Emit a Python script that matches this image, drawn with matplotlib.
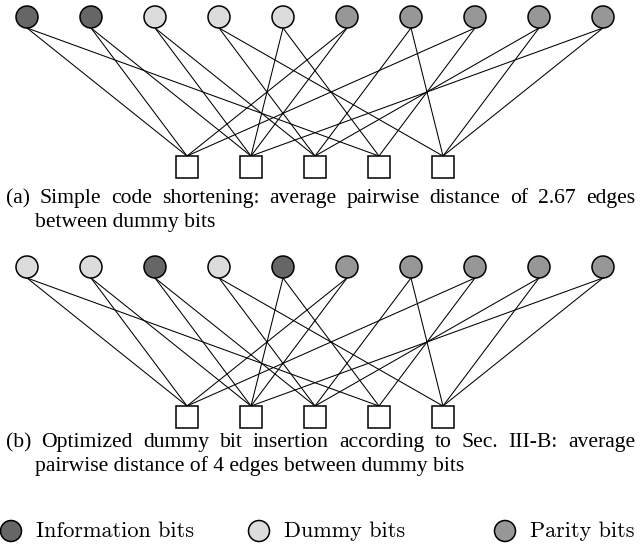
import matplotlib
matplotlib.use("Agg")
import matplotlib.pyplot as plt
from matplotlib.patches import Circle, Rectangle

# bit types of the 10 variable nodes in each panel
bits_a = ["info", "info", "dummy", "dummy", "dummy",
          "parity", "parity", "parity", "parity", "parity"]
bits_b = ["dummy", "dummy", "info", "dummy", "info",
          "parity", "parity", "parity", "parity", "parity"]

# (variable node, check node) pairs, same graph in both panels
edges = [(0, 0), (0, 3), (1, 0), (1, 1), (2, 1), (2, 2), (3, 2), (3, 4),
         (4, 1), (4, 3), (5, 0), (5, 1), (6, 2), (6, 4), (7, 0), (7, 3),
         (8, 2), (8, 4), (9, 1), (9, 4)]
n_checks = 5

colors = {"info": "#666666", "dummy": "#dcdcdc", "parity": "#979797"}
legend_labels = [("info", "Information bits"), ("dummy", "Dummy bits"),
                 ("parity", "Parity bits")]

caption_a = ["(a) Simple code shortening: average pairwise distance of 2.67 edges",
             "between dummy bits"]
caption_b = ["(b) Optimized dummy bit insertion according to Sec. III-B: average",
             "pairwise distance of 4 edges between dummy bits"]

W, H = 644, 548
fig = plt.figure(figsize=(W / 100, H / 100), dpi=100)
ax = fig.add_axes([0, 0, 1, 1])
ax.set_xlim(0, W)
ax.set_ylim(H, 0)
ax.set_aspect("equal")
ax.axis("off")

x_var0, step = 27, 64
r = 11
sq = 21.5
x_chk0 = x_var0 + step * (len(bits_a) - 1) / 2 - step * (n_checks - 1) / 2


def draw_graph(bits, y0):
    yv = y0
    yc = y0 + 139
    for v, c in edges:
        xv = x_var0 + v * step
        xc = x_chk0 + c * step
        ax.plot([xv, xc], [yv + r, yc], color="black", lw=0.75, zorder=1)
    for i, b in enumerate(bits):
        ax.add_patch(Circle((x_var0 + i * step, yv), r, facecolor=colors[b],
                            edgecolor="black", lw=1.1, zorder=2))
    for j in range(n_checks):
        xc = x_chk0 + j * step
        ax.add_patch(Rectangle((xc - sq / 2, yc), sq, sq, facecolor="white",
                               edgecolor="black", lw=1.1, zorder=2))


renderer = fig.canvas.get_renderer()
cap_font = dict(family="Liberation Serif", fontsize=15.6, va="center")


def justify(line, x0, x1, y):
    words = line.split()
    ts = [ax.text(0, y, w, **cap_font) for w in words]
    widths = [t.get_window_extent(renderer).width for t in ts]
    gap = (x1 - x0 - sum(widths)) / (len(words) - 1)
    x = x0
    for t, w in zip(ts, widths):
        t.set_x(x)
        x += w + gap


def caption(lines, y):
    justify(lines[0], 6, 635, y)
    ax.text(35, y + 23.5, lines[1], **cap_font)


draw_graph(bits_a, 17)
caption(caption_a, 198.5)
draw_graph(bits_b, 267)
caption(caption_b, 442.5)

leg_x = [11, 259, 505]
for (key, label), lx in zip(legend_labels, leg_x):
    ax.add_patch(Circle((lx, 531), 10.5, facecolor=colors[key],
                        edgecolor="black", lw=1.1))
    ax.text(lx + 25, 531, label, family="cmr10", fontsize=16, va="center")

fig.savefig("out.png", dpi=100)
